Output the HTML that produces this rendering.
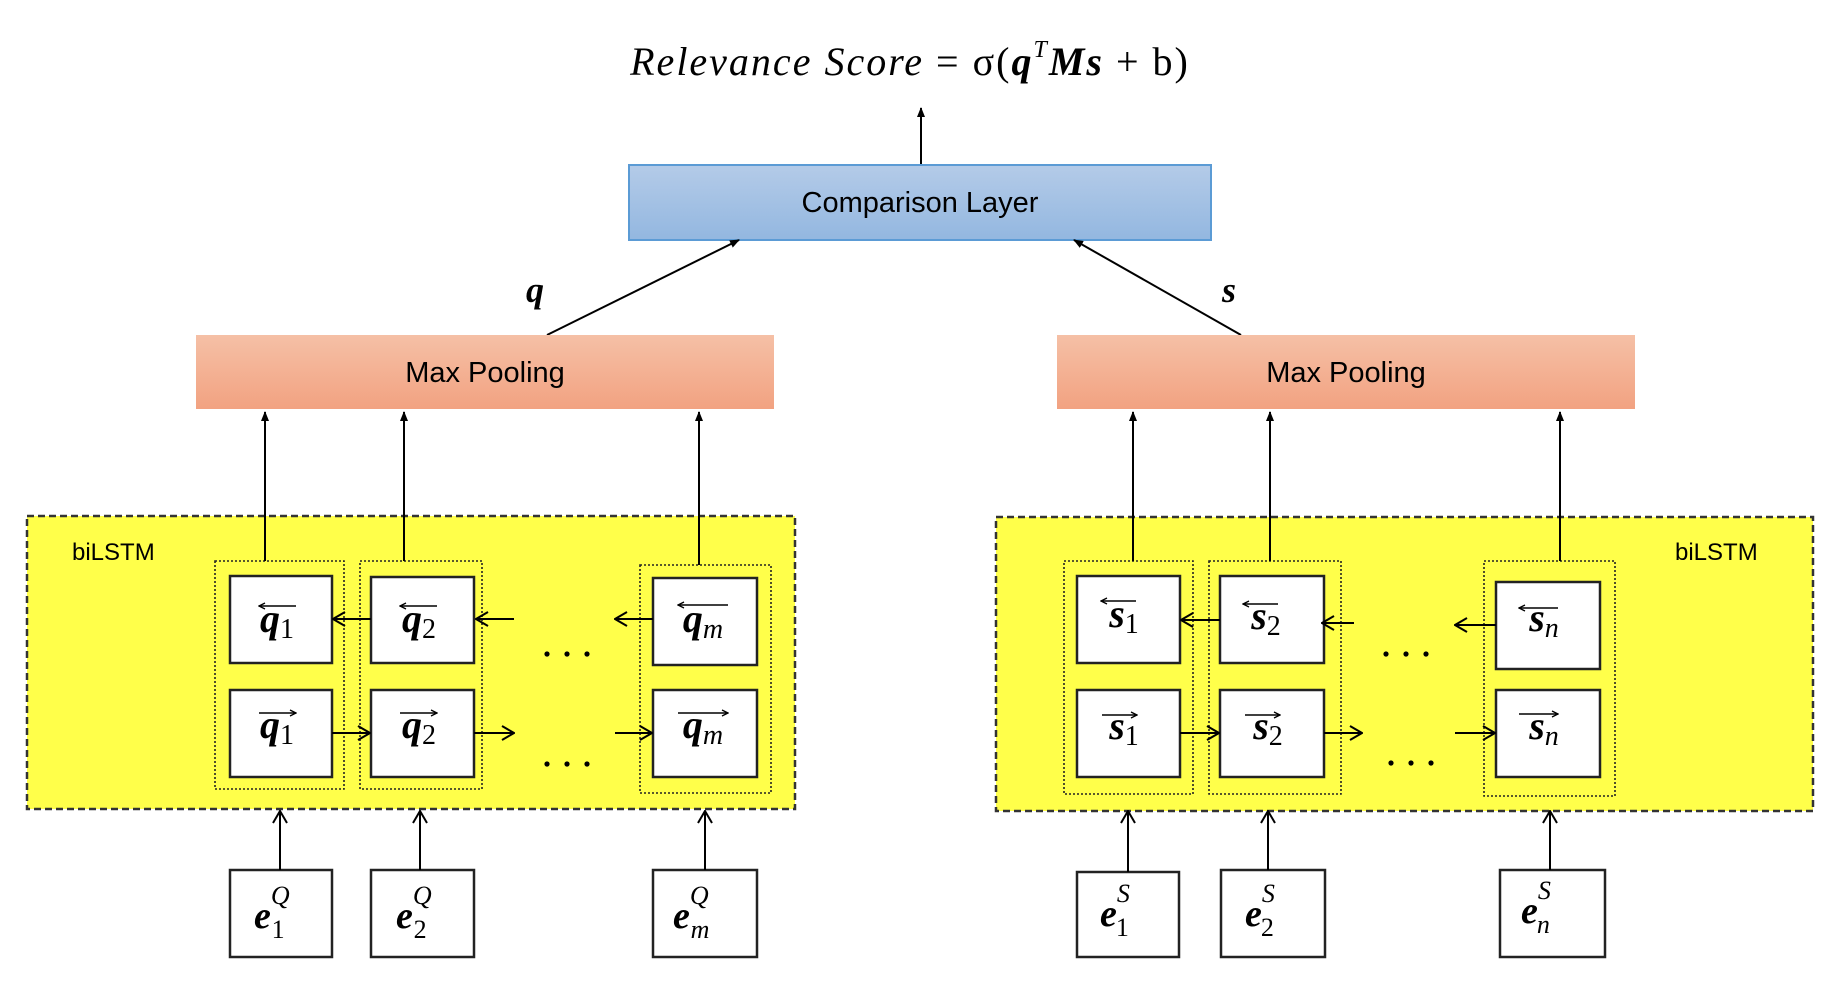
<!DOCTYPE html>
<html><head><meta charset="utf-8"><style>
html,body{margin:0;padding:0;background:#fff;}
svg{display:block;}
.m{font-family:"Liberation Serif",serif;font-style:italic;}
.b{font-weight:bold;}
.t{font-family:"Liberation Sans",sans-serif;}
</style></head><body>
<svg width="1830" height="998" viewBox="0 0 1830 998" xmlns="http://www.w3.org/2000/svg">
<defs>
<linearGradient id="bl" x1="0" y1="0" x2="0" y2="1"><stop offset="0" stop-color="#b4cbe8"/><stop offset="1" stop-color="#93b7e0"/></linearGradient>
<linearGradient id="or" x1="0" y1="0" x2="0" y2="1"><stop offset="0" stop-color="#f5c0a6"/><stop offset="1" stop-color="#f2a281"/></linearGradient>
<marker id="ah" markerWidth="10" markerHeight="10" refX="9" refY="5" orient="auto" markerUnits="userSpaceOnUse"><path d="M0,1 L10,5 L0,9 z" fill="#000"/></marker>
<marker id="oa" markerWidth="14" markerHeight="16" refX="13" refY="8" orient="auto" markerUnits="userSpaceOnUse"><path d="M1,1 L13,8 L1,15" fill="none" stroke="#000" stroke-width="2"/></marker>
<marker id="sa" markerWidth="8" markerHeight="8" refX="7" refY="4" orient="auto" markerUnits="userSpaceOnUse"><path d="M1,1 L7,4 L1,7" fill="none" stroke="#000" stroke-width="1.3"/></marker>
</defs>

<!-- formula -->
<text x="910" y="75" text-anchor="middle" font-size="40" letter-spacing="2" class="m"><tspan>Relevance Score</tspan><tspan font-style="normal"> = σ(</tspan><tspan class="b">q</tspan><tspan font-size="24" dy="-18">T</tspan><tspan class="b" dy="18">Ms</tspan><tspan font-style="normal"> + b)</tspan></text>
<line x1="921" y1="167" x2="921" y2="108" stroke="#000" stroke-width="2" marker-end="url(#ah)"/>

<!-- comparison -->
<rect x="629" y="165" width="582" height="75" fill="url(#bl)" stroke="#5b9bd5" stroke-width="2"/>
<text x="920" y="212" text-anchor="middle" font-size="29" class="t">Comparison Layer</text>

<line x1="547" y1="335" x2="739" y2="240" stroke="#000" stroke-width="2" marker-end="url(#ah)"/>
<line x1="1241" y1="335" x2="1074" y2="240" stroke="#000" stroke-width="2" marker-end="url(#ah)"/>
<text x="535" y="302" text-anchor="middle" font-size="36" class="m b">q</text>
<text x="1229" y="302" text-anchor="middle" font-size="36" class="m b">s</text>

<!-- max pooling -->
<rect x="196" y="335" width="578" height="74" fill="url(#or)"/>
<rect x="1057" y="335" width="578" height="74" fill="url(#or)"/>
<text x="485" y="382" text-anchor="middle" font-size="29" class="t">Max Pooling</text>
<text x="1346" y="382" text-anchor="middle" font-size="29" class="t">Max Pooling</text>

<!-- biLSTM boxes -->
<rect x="27" y="516" width="768" height="293" fill="#ffff4a" stroke="#333" stroke-width="2.5" stroke-dasharray="7,4"/>
<rect x="996" y="517" width="817" height="294" fill="#ffff4a" stroke="#333" stroke-width="2.5" stroke-dasharray="7,4"/>
<text x="72" y="560" font-size="24" class="t">biLSTM</text>
<text x="1675" y="560" font-size="24" class="t">biLSTM</text>

<!-- dotted groups -->
<g fill="none" stroke="#222" stroke-width="1.6" stroke-dasharray="2,2">
<rect x="215" y="561" width="129" height="228"/>
<rect x="360" y="561" width="122" height="228"/>
<rect x="640" y="565" width="131" height="228"/>
<rect x="1064" y="561" width="129" height="233"/>
<rect x="1209" y="561" width="132" height="233"/>
<rect x="1484" y="561" width="131" height="235"/>
</g>

<!-- up arrows to max pooling -->
<g stroke="#000" stroke-width="2" marker-end="url(#ah)">
<line x1="265" y1="561" x2="265" y2="412"/>
<line x1="404" y1="561" x2="404" y2="412"/>
<line x1="699" y1="565" x2="699" y2="412"/>
<line x1="1133" y1="561" x2="1133" y2="412"/>
<line x1="1270" y1="561" x2="1270" y2="412"/>
<line x1="1560" y1="561" x2="1560" y2="412"/>
</g>

<!-- cells -->
<g fill="#fff" stroke="#222" stroke-width="2.5">
<rect x="230" y="576" width="102" height="87"/>
<rect x="371" y="577" width="103" height="86"/>
<rect x="653" y="578" width="104" height="87"/>
<rect x="230" y="690" width="102" height="87"/>
<rect x="371" y="690" width="103" height="87"/>
<rect x="653" y="690" width="104" height="87"/>
<rect x="1077" y="576" width="103" height="87"/>
<rect x="1220" y="576" width="104" height="87"/>
<rect x="1496" y="582" width="104" height="87"/>
<rect x="1077" y="690" width="103" height="87"/>
<rect x="1220" y="690" width="104" height="87"/>
<rect x="1496" y="690" width="104" height="87"/>
<!-- embedding boxes -->
<rect x="230" y="870" width="102" height="87"/>
<rect x="371" y="870" width="103" height="87"/>
<rect x="653" y="870" width="104" height="87"/>
<rect x="1077" y="872" width="102" height="85"/>
<rect x="1221" y="870" width="104" height="87"/>
<rect x="1500" y="870" width="105" height="87"/>
</g>

<!-- cell labels -->
<g font-size="40" text-anchor="middle">
<text x="277" y="632" class="m"><tspan class="b">q</tspan><tspan font-style="normal" font-size="28" dy="6">1</tspan></text>
<text x="419" y="632" class="m"><tspan class="b">q</tspan><tspan font-style="normal" font-size="28" dy="6">2</tspan></text>
<text x="703" y="632" class="m"><tspan class="b">q</tspan><tspan font-size="28" dy="6">m</tspan></text>
<text x="277" y="738" class="m"><tspan class="b">q</tspan><tspan font-style="normal" font-size="28" dy="6">1</tspan></text>
<text x="419" y="738" class="m"><tspan class="b">q</tspan><tspan font-style="normal" font-size="28" dy="6">2</tspan></text>
<text x="703" y="738" class="m"><tspan class="b">q</tspan><tspan font-size="28" dy="6">m</tspan></text>
<text x="1124" y="627" class="m"><tspan class="b">s</tspan><tspan font-style="normal" font-size="28" dy="6">1</tspan></text>
<text x="1266" y="629" class="m"><tspan class="b">s</tspan><tspan font-style="normal" font-size="28" dy="6">2</tspan></text>
<text x="1544" y="631" class="m"><tspan class="b">s</tspan><tspan font-size="28" dy="6">n</tspan></text>
<text x="1124" y="739" class="m"><tspan class="b">s</tspan><tspan font-style="normal" font-size="28" dy="6">1</tspan></text>
<text x="1268" y="739" class="m"><tspan class="b">s</tspan><tspan font-style="normal" font-size="28" dy="6">2</tspan></text>
<text x="1544" y="739" class="m"><tspan class="b">s</tspan><tspan font-size="28" dy="6">n</tspan></text>
</g>
<!-- vector arrows over labels -->
<g stroke="#000" stroke-width="1.5">
<line x1="296" y1="606" x2="259" y2="606" marker-end="url(#sa)"/>
<line x1="437" y1="606" x2="400" y2="606" marker-end="url(#sa)"/>
<line x1="728" y1="605" x2="678" y2="605" marker-end="url(#sa)"/>
<line x1="259" y1="713" x2="296" y2="713" marker-end="url(#sa)"/>
<line x1="400" y1="713" x2="437" y2="713" marker-end="url(#sa)"/>
<line x1="678" y1="713" x2="728" y2="713" marker-end="url(#sa)"/>
<line x1="1136" y1="601" x2="1101" y2="601" marker-end="url(#sa)"/>
<line x1="1278" y1="604" x2="1243" y2="604" marker-end="url(#sa)"/>
<line x1="1558" y1="608" x2="1519" y2="608" marker-end="url(#sa)"/>
<line x1="1102" y1="715" x2="1137" y2="715" marker-end="url(#sa)"/>
<line x1="1245" y1="715" x2="1280" y2="715" marker-end="url(#sa)"/>
<line x1="1519" y1="714" x2="1558" y2="714" marker-end="url(#sa)"/>
</g>

<!-- embedding labels -->
<g font-size="38" class="m">
<text x="254" y="928"><tspan class="b">e</tspan><tspan font-size="26" dy="-24">Q</tspan><tspan font-style="normal" font-size="26" dx="-18" dy="34">1</tspan></text>
<text x="396" y="928"><tspan class="b">e</tspan><tspan font-size="26" dy="-24">Q</tspan><tspan font-style="normal" font-size="26" dx="-18" dy="34">2</tspan></text>
<text x="673" y="928"><tspan class="b">e</tspan><tspan font-size="26" dy="-24">Q</tspan><tspan font-size="26" dx="-18" dy="34">m</tspan></text>
<text x="1100" y="926"><tspan class="b">e</tspan><tspan font-size="26" dy="-24">S</tspan><tspan font-style="normal" font-size="26" dx="-14" dy="34">1</tspan></text>
<text x="1245" y="926"><tspan class="b">e</tspan><tspan font-size="26" dy="-24">S</tspan><tspan font-style="normal" font-size="26" dx="-14" dy="34">2</tspan></text>
<text x="1521" y="923"><tspan class="b">e</tspan><tspan font-size="26" dy="-24">S</tspan><tspan font-size="26" dx="-14" dy="34">n</tspan></text>
</g>

<!-- horizontal recurrent arrows -->
<g stroke="#000" stroke-width="2" marker-end="url(#oa)">
<line x1="371" y1="619" x2="333" y2="619"/>
<line x1="514" y1="619" x2="476" y2="619"/>
<line x1="653" y1="619" x2="615" y2="619"/>
<line x1="332" y1="733" x2="370" y2="733"/>
<line x1="474" y1="733" x2="514" y2="733"/>
<line x1="615" y1="733" x2="652" y2="733"/>
<line x1="1220" y1="620" x2="1181" y2="620"/>
<line x1="1354" y1="623" x2="1322" y2="623"/>
<line x1="1496" y1="625" x2="1455" y2="625"/>
<line x1="1180" y1="733" x2="1219" y2="733"/>
<line x1="1324" y1="733" x2="1362" y2="733"/>
<line x1="1455" y1="733" x2="1495" y2="733"/>
<!-- up from embeddings -->
<line x1="280" y1="870" x2="280" y2="811"/>
<line x1="420" y1="870" x2="420" y2="811"/>
<line x1="705" y1="870" x2="705" y2="811"/>
<line x1="1128" y1="872" x2="1128" y2="811"/>
<line x1="1268" y1="870" x2="1268" y2="811"/>
<line x1="1550" y1="870" x2="1550" y2="811"/>
</g>

<!-- dots -->
<g fill="#000">
<circle cx="547" cy="654" r="2.6"/><circle cx="567" cy="654" r="2.6"/><circle cx="587" cy="654" r="2.6"/>
<circle cx="547" cy="764" r="2.6"/><circle cx="567" cy="764" r="2.6"/><circle cx="587" cy="764" r="2.6"/>
<circle cx="1386" cy="654" r="2.6"/><circle cx="1406" cy="654" r="2.6"/><circle cx="1426" cy="654" r="2.6"/>
<circle cx="1391" cy="763" r="2.6"/><circle cx="1411" cy="763" r="2.6"/><circle cx="1431" cy="763" r="2.6"/>
</g>
</svg>
</body></html>
